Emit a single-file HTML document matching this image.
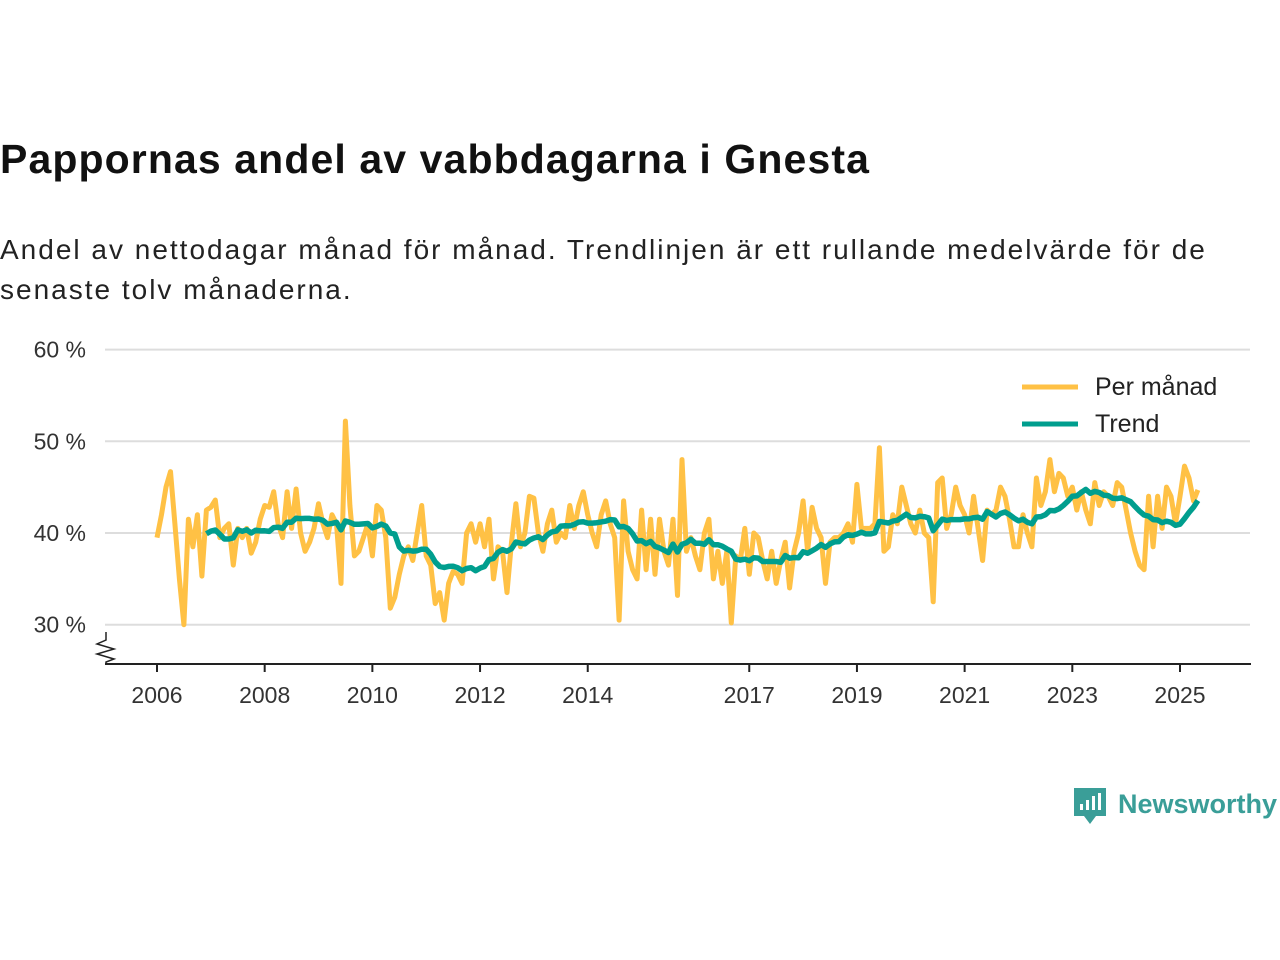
<!DOCTYPE html>
<html><head><meta charset="utf-8"><style>
body{margin:0;width:1280px;height:960px;background:#fff;font-family:"Liberation Sans",sans-serif;overflow:hidden;position:relative}
#title{position:absolute;left:0;top:136px;font-size:41px;font-weight:bold;color:#111;letter-spacing:1.1px;white-space:nowrap}
#sub{position:absolute;left:0;top:230px;font-size:28px;line-height:40px;color:#222;letter-spacing:2px;white-space:nowrap}
svg{position:absolute;left:0;top:0}
</style></head><body>
<div id="title">Pappornas andel av vabbdagarna i Gnesta</div>
<div id="sub">Andel av nettodagar månad för månad. Trendlinjen är ett rullande medelvärde för de<br>senaste tolv månaderna.</div>
<svg id="chart" width="1280" height="960"></svg>
<script>
const startYear = 2006;
const monthlyValues = [
39.5,42,45,46.7,41,35,30,41.5,38.5,42,35.3,42.5,
42.8,43.6,39.5,40.5,41,36.5,40.5,39.5,40.5,37.8,39,41.5,
43,42.8,44.5,41,39.5,44.5,40.5,44.8,40,38,39,40.5,
43.2,41,39.5,42,41,34.5,52.2,43,37.5,38,39.5,41,
37.5,43,42.5,39.5,31.8,33,35.5,37.5,38.5,37,40,43,
37.5,36.5,32.3,33.5,30.5,34.5,35.8,35.5,34.5,40,41,39,
41,38.5,41.5,35,38.5,38,33.5,39,43.2,38.5,40,44,
43.8,40,38,41,42.5,39,40,39.5,43,40.5,43,44.5,
42,40,38.5,42,43.5,41,39.5,30.5,43.5,38,36,35,
42.5,36,41.5,35.5,41.5,38,36.5,41.5,33.2,48,38,39.5,
37.5,36,40,41.5,35,38,34.5,38,30.2,37.5,37,40.5,
35.5,40,39.5,37,35,38,34.5,37,39,34,38,40,
43.5,38,42.8,40.5,39.5,34.5,39,39.5,39.5,40,41,39,
45.3,40.5,40.5,40.5,41,49.3,38,38.5,42,41,45,43,
41,40,42.5,40,39.5,32.5,45.5,46,40.5,42,45,43,
42,40,44,40.5,37,42.5,42,42.5,45,44,41.5,38.5,
38.5,42,40,38.5,46,43,44.5,48,44.5,46.5,46,44,
45,42.5,44.5,42.5,41,45.5,43,44.5,44,43,45.5,45,
42.5,40,38,36.5,36,44,38.5,44,40.5,45,44,41,
44,47.3,46,43.5,44.7];
const yTicks = [30,40,50,60];
const xTickYears = [2006,2008,2010,2012,2014,2017,2019,2021,2023,2025];

const svg = document.getElementById('chart');
const NS = 'http://www.w3.org/2000/svg';
const X = m => 157 + m * (1180 - 157) / 228;
const Y = v => 533 - (v - 40) * 9.17;
function mk(tag, attrs){const e=document.createElementNS(NS,tag);for(const k in attrs)e.setAttribute(k,attrs[k]);svg.appendChild(e);return e;}

yTicks.forEach(t=>{
  const g = mk('line',{x1:105,x2:1250,y1:Y(t),y2:Y(t),stroke:'#ddd','stroke-width':2});
  
  
  const tx = mk('text',{x:86,y:Y(t)+8,'text-anchor':'end','font-size':23,fill:'#333','font-family':'Liberation Sans, sans-serif'});
  tx.textContent = t+' %';
  
  
});
const ax = mk('line',{x1:105,x2:1251,y1:664,y2:664,stroke:'#222','stroke-width':2});


const zz = mk('path',{d:'M106,632 L106,640 L97,644 L114,649 L97,654 L114,659 L106,662 L106,664',fill:'none',stroke:'#222','stroke-width':1.5});


xTickYears.forEach(yr=>{
  const x = X((yr-startYear)*12);
  const t = mk('line',{x1:x,x2:x,y1:664,y2:672,stroke:'#222','stroke-width':2});
  
  
  const tx = mk('text',{x:x,y:703,'text-anchor':'middle','font-size':23,fill:'#333','font-family':'Liberation Sans, sans-serif'});
  tx.textContent = yr;
  
  
});
const mp = monthlyValues.map((v,i)=>X(i).toFixed(1)+','+Y(v).toFixed(1)).join(' ');
const ml = mk('polyline',{points:mp,fill:'none',stroke:'#ffc145','stroke-width':5,'stroke-linejoin':'round'});


const tp=[];
for(let i=11;i<monthlyValues.length;i++){let s=0;for(let j=i-11;j<=i;j++)s+=monthlyValues[j];tp.push(X(i).toFixed(1)+','+Y(s/12).toFixed(1));}
const tl = mk('polyline',{points:tp.join(' '),fill:'none',stroke:'#009e8e','stroke-width':5.5,'stroke-linejoin':'round'});


</script>
<svg width="1280" height="960" style="pointer-events:none">
<rect x="1012" y="365" width="225" height="75" fill="#fff"/>
<g><line x1="1022" x2="1078" y1="387" y2="387" stroke="#ffc145" stroke-width="5"/><text x="1095" y="395" font-size="25" fill="#222" font-family="Liberation Sans, sans-serif">Per månad</text></g>
<g><line x1="1022" x2="1078" y1="424" y2="424" stroke="#009e8e" stroke-width="5"/><text x="1095" y="432" font-size="25" fill="#222" font-family="Liberation Sans, sans-serif">Trend</text></g>
<g>
<path d="M1074,788 h32 v28 h-10 l-6,8 l-6,-8 h-10 z" fill="#3a9e98"/>
<rect x="1080" y="804" width="3" height="6" fill="#fff"/><rect x="1086" y="800" width="3" height="10" fill="#fff"/><rect x="1092" y="796" width="3" height="14" fill="#fff"/><rect x="1098" y="793" width="3" height="17" fill="#fff"/>
<text x="1118" y="813" font-size="27" font-weight="bold" fill="#3a9e98" font-family="Liberation Sans, sans-serif">Newsworthy</text>
</g>
</svg>
</body></html>
